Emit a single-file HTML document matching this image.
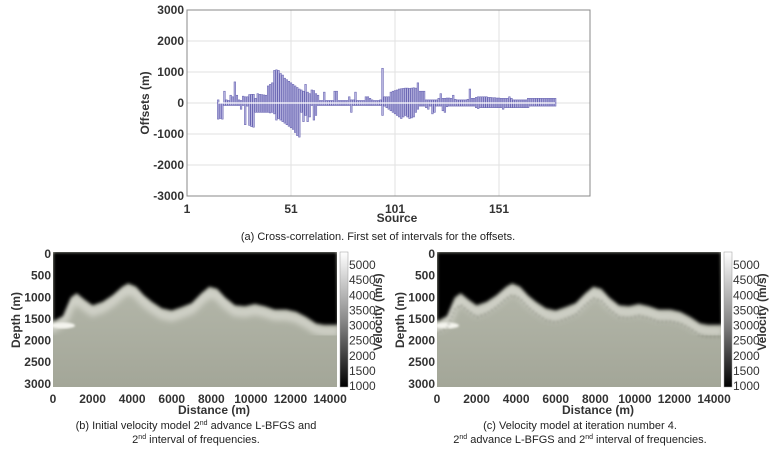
<!DOCTYPE html>
<html><head><meta charset="utf-8">
<style>
body{margin:0;background:#fff;width:781px;height:448px;overflow:hidden;font-family:"Liberation Sans",sans-serif;}
svg text{font-family:"Liberation Sans",sans-serif;}
</style></head>
<body>
<svg id="root" width="781" height="448" viewBox="0 0 781 448" xmlns="http://www.w3.org/2000/svg">
<defs>
<linearGradient id="cbar" x1="0" y1="1" x2="0" y2="0">
<stop offset="0" stop-color="#000"/><stop offset="0.5" stop-color="#8a8a8a"/><stop offset="1" stop-color="#fff"/>
</linearGradient>
<linearGradient id="ground" x1="0" y1="0" x2="0" y2="1">
<stop offset="0" stop-color="#b9bcaf"/><stop offset="1" stop-color="#a3a698"/>
</linearGradient>
<filter id="blur3"><feGaussianBlur stdDeviation="3"/></filter>
<filter id="blur15"><feGaussianBlur stdDeviation="1.5"/></filter>
<filter id="blur1"><feGaussianBlur stdDeviation="1"/></filter>
</defs>
<g id="topChart"></g>
<g id="panelB"></g>
<g id="panelC"></g>
</svg>
<script>
const NS="http://www.w3.org/2000/svg";
const firstSource=16;
const posOffsets=[100,0,0,380,100,80,250,200,680,250,
100,80,220,200,200,270,280,280,150,300,
280,270,260,250,550,600,650,1050,1070,1050,
950,900,800,750,700,650,600,550,500,450,
420,380,600,350,300,420,400,300,250,80,
80,350,80,80,80,80,380,380,80,80,
80,80,80,200,100,100,350,80,80,80,
80,200,200,150,100,80,80,80,100,1120,
200,200,200,350,380,400,420,450,460,470,
480,480,470,480,490,480,650,380,380,380,
100,100,100,100,100,100,150,300,150,150,
160,160,150,250,120,100,100,100,100,100,
120,450,150,150,180,200,200,200,200,200,
180,180,170,170,160,160,150,150,150,150,
200,150,100,100,100,100,100,100,100,150,
150,150,150,150,150,150,150,150,150,150,
150,150,150];
const negOffsets=[-520,-500,-520,-80,-80,-80,-80,-80,-80,-80,
-80,-200,-80,-700,-100,-720,-760,-780,-300,-300,
-300,-300,-300,-300,-300,-320,-300,-350,-550,-500,
-550,-600,-650,-700,-750,-800,-850,-950,-1050,-1100,
-300,-600,-400,-600,-450,-80,-550,-400,-80,-80,
-80,-80,-80,-80,-80,-80,-80,-80,-80,-80,
-80,-80,-80,-80,-300,-80,-80,-80,-80,-80,
-80,-80,-80,-80,-80,-80,-80,-80,-80,-400,
-100,-150,-200,-250,-300,-350,-400,-450,-500,-450,
-400,-450,-500,-480,-450,-300,-200,-100,-100,-100,
-150,-200,-100,-350,-300,-100,-100,-100,-250,-300,
-120,-100,-100,-100,-100,-100,-100,-100,-100,-100,
-100,-100,-100,-100,-150,-180,-150,-150,-150,-150,
-150,-150,-150,-150,-150,-150,-150,-200,-150,-150,
-150,-150,-150,-150,-150,-150,-150,-150,-150,-150,
-100,-100,-100,-100,-100,-100,-100,-100,-100,-100,
-100,-100,-100];
const yTicks=[3000,2000,1000,0,-1000,-2000,-3000];
const xTicks=[1,51,101,151];
const boundaryDist=[0,500,900,1200,1600,2000,2500,3000,3500,3800,4200,4600,5000,5500,6000,6500,7000,7500,7900,8300,8700,9200,9700,10200,10700,11200,11800,12300,12800,13300,13700,14400];
const boundaryDepth=[1600,1480,1050,950,1100,1230,1150,1000,800,720,800,1000,1150,1300,1350,1270,1180,950,800,850,1050,1230,1250,1200,1250,1330,1330,1380,1500,1650,1680,1680];
const depthTicks=[0,500,1000,1500,2000,2500,3000];
const distTicks=[0,2000,4000,6000,8000,10000,12000,14000];
const velTicks=[5000,4500,4000,3500,3000,2500,2000,1500,1000];

function el(tag,attrs,parent,txt){const e=document.createElementNS(NS,tag);for(const k in attrs)e.setAttribute(k,attrs[k]);if(txt!==undefined)e.textContent=txt;parent.appendChild(e);return e;}

const topG=document.getElementById('topChart');
const X0=187,X1=590,Y0=10,Y1=196;
const xs=s=>X0+(s-1)*2.08;
const ys=v=>Y0+(3000-v)/6000*(Y1-Y0);
el('rect',{x:X0,y:Y0,width:X1-X0,height:Y1-Y0,fill:'#fff',stroke:'#888','stroke-width':1},topG);
yTicks.forEach(t=>{
 const g=el('line',{x1:X0,x2:X1,y1:ys(t),y2:ys(t),stroke:'#e2e2e2','stroke-width':1},topG);
 
 
 const tx=el('text',{x:X0-3,y:ys(t)+4,'text-anchor':'end','font-size':12,'font-weight':'bold',fill:'#333'},topG,String(t));
 
 
});
xTicks.forEach(t=>{
 const g=el('line',{x1:xs(t),x2:xs(t),y1:Y0,y2:Y1,stroke:'#e2e2e2','stroke-width':1},topG);
 
 
 const tx=el('text',{x:xs(t),y:Y1+17,'text-anchor':'middle','font-size':12,'font-weight':'bold',fill:'#333'},topG,String(t));
 
 
});
el('rect',{x:X0,y:Y0,width:X1-X0,height:Y1-Y0,fill:'none',stroke:'#888','stroke-width':1},topG);
posOffsets.forEach((v,i)=>{
 const s=firstSource+i, y=ys(Math.max(v,0)), h=ys(0)-y;
 const r=el('rect',{x:xs(s)-0.8,y:y,width:1.6,height:Math.max(h,0.5),fill:'#b9b6e0',stroke:'#6a66b3','stroke-width':0.6},topG);
 
 
});
negOffsets.forEach((v,i)=>{
 const s=firstSource+i, y=ys(0), h=ys(Math.min(v,0))-y;
 const r=el('rect',{x:xs(s)-0.8,y:y,width:1.6,height:Math.max(h,0.5),fill:'#b9b6e0',stroke:'#6a66b3','stroke-width':0.6},topG);
 
 
});
el('line',{x1:xs(firstSource),x2:xs(firstSource+posOffsets.length-1),y1:ys(0),y2:ys(0),stroke:'#fff','stroke-width':1.2},topG);
let t1=el('text',{x:397,y:222,'text-anchor':'middle','font-size':12,'font-weight':'bold',fill:'#333'},topG,'Source');


let t2=el('text',{x:149,y:103,'text-anchor':'middle','font-size':12,'font-weight':'bold',fill:'#333',transform:'rotate(-90 149 103)'},topG,'Offsets (m)');


let t3=el('text',{x:378,y:240,'text-anchor':'middle','font-size':11,fill:'#222'},topG,'(a) Cross-correlation. First set of intervals for the offsets.');



function panel(g,ox,noisy,cap1,cap2){
 const L=ox+53,R=ox+337,T=252,B=387;
 const px=d=>L+d*(R-L)/14350;
 const py=z=>T+z*(B-T)/3120;
 const clip='clip'+ox;
 const cp=el('clipPath',{id:clip},g);el('rect',{x:L,y:T,width:R-L,height:B-T},cp);
 const ig=el('g',{'clip-path':'url(#'+clip+')'},g);
 el('rect',{x:L,y:T,width:R-L,height:B-T,fill:'url(#ground)'},ig);
 let d='M'+L+' '+T;
 boundaryDist.forEach((x,i)=>{d+=' L'+px(x).toFixed(1)+' '+py(boundaryDepth[i]).toFixed(1);});
 d+=' L'+R+' '+T+' Z';
 let line='M'+px(boundaryDist[0])+' '+py(boundaryDepth[0]);
 boundaryDist.forEach((x,i)=>{line+=' L'+px(x).toFixed(1)+' '+py(boundaryDepth[i]+150).toFixed(1);});
 el('path',{d:line,fill:'none',stroke:'#e6e6df','stroke-width':9,opacity:0.6,filter:'url(#blur3)'},ig);
 el('ellipse',{cx:L+10,cy:py(1700),rx:12,ry:3,fill:'#f4f4ee',filter:'url(#blur1)'},ig);
 if(noisy){
  let nl='M'+px(boundaryDist[0])+' '+py(boundaryDepth[0]+250);
  boundaryDist.forEach((x,i)=>{nl+=' L'+px(x).toFixed(1)+' '+py(boundaryDepth[i]+280).toFixed(1);});
  el('path',{d:nl,fill:'none',stroke:'#6f7268','stroke-width':3,'stroke-dasharray':'2 2',opacity:0.3,filter:'url(#blur1)'},ig);
 }
 const sky=el('path',{d:d,fill:'#050505',filter:'url(#blur15)'},ig);
 
 
 const cb=el('rect',{x:ox+340,y:T,width:8,height:B-T,fill:'url(#cbar)',stroke:'#999','stroke-width':0.5},g);
 
 
 velTicks.forEach(v=>{
  const y=265+(5000-v)*(386-265)/4000;
  const tx=el('text',{x:ox+349,y:y+4,'font-size':12,fill:'#333'},g,String(v));
  
  
 });
 let vt=el('text',{x:ox+382,y:312,'text-anchor':'middle','font-size':12,'font-weight':'bold',fill:'#333',transform:'rotate(-90 '+(ox+382)+' 312)'},g,'Velocity (m/s)');
 
 
 depthTicks.forEach(z=>{
  const tx=el('text',{x:L-2,y:py(z)+6,'text-anchor':'end','font-size':12,'font-weight':'bold',fill:'#333'},g,String(z));
  
  
 });
 distTicks.forEach(x=>{
  const tx=el('text',{x:px(x),y:403,'text-anchor':'middle','font-size':12,'font-weight':'bold',fill:'#333'},g,String(x));
  
  
 });
 let dt=el('text',{x:ox+214,y:414,'text-anchor':'middle','font-size':12,'font-weight':'bold',fill:'#333'},g,'Distance (m)');
 
 
 let yt=el('text',{x:ox+20,y:320,'text-anchor':'middle','font-size':12,'font-weight':'bold',fill:'#333',transform:'rotate(-90 '+(ox+20)+' 320)'},g,'Depth (m)');
 
 
 const c1=el('text',{x:ox+196,y:429,'text-anchor':'middle','font-size':11,fill:'#222'},g);
 c1.innerHTML=cap1;
 
 
 const c2=el('text',{x:ox+196,y:443,'text-anchor':'middle','font-size':11,fill:'#222'},g);
 c2.innerHTML=cap2;
 
 
}
panel(document.getElementById('panelB'),0,false,
 '(b) Initial velocity model 2<tspan font-size="7" dy="-4">nd</tspan><tspan dy="4"> advance L-BFGS and</tspan>',
 '2<tspan font-size="7" dy="-4">nd</tspan><tspan dy="4"> interval of frequencies.</tspan>');
panel(document.getElementById('panelC'),384,true,
 '(c) Velocity model at iteration number 4.',
 '2<tspan font-size="7" dy="-4">nd</tspan><tspan dy="4"> advance L-BFGS and  2</tspan><tspan font-size="7" dy="-4">nd</tspan><tspan dy="4"> interval of frequencies.</tspan>');
</script>
</body></html>
